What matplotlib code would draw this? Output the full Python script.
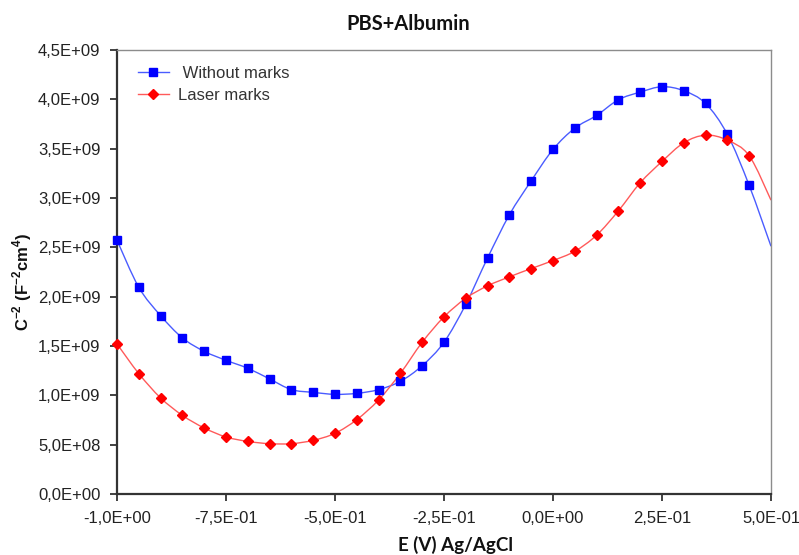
import numpy as np
import matplotlib
matplotlib.use("Agg")
import matplotlib.pyplot as plt
from matplotlib.path import Path
from matplotlib.patches import PathPatch
from matplotlib.lines import Line2D

# ---- data ----
potential = [-1.00, -0.95, -0.90, -0.85, -0.80, -0.75, -0.70, -0.65, -0.60, -0.55,
             -0.50, -0.45, -0.40, -0.35, -0.30, -0.25, -0.20, -0.15, -0.10, -0.05,
             0.00, 0.05, 0.10, 0.15, 0.20, 0.25, 0.30, 0.35, 0.40, 0.45, 0.50]
without_marks = [2.572e9, 2.095e9, 1.808e9, 1.582e9, 1.446e9, 1.355e9, 1.274e9, 1.166e9, 1.058e9, 1.030e9,
                 1.010e9, 1.020e9, 1.058e9, 1.142e9, 1.301e9, 1.538e9, 1.923e9, 2.393e9, 2.830e9, 3.174e9,
                 3.492e9, 3.708e9, 3.837e9, 3.996e9, 4.073e9, 4.128e9, 4.087e9, 3.958e9, 3.644e9, 3.127e9,
                 2.511e9]
laser_marks = [1.521e9, 1.220e9, 0.974e9, 0.797e9, 0.669e9, 0.578e9, 0.533e9, 0.510e9, 0.510e9, 0.544e9,
               0.615e9, 0.754e9, 0.953e9, 1.223e9, 1.538e9, 1.795e9, 1.984e9, 2.110e9, 2.201e9, 2.285e9,
               2.366e9, 2.460e9, 2.623e9, 2.870e9, 3.154e9, 3.370e9, 3.560e9, 3.637e9, 3.586e9, 3.428e9,
               2.978e9]
series_names = [" Without marks", "Laser marks"]
x_ticks = [-1.0, -0.75, -0.5, -0.25, 0.0, 0.25, 0.5]
x_tick_labels = ["-1,0E+00", "-7,5E-01", "-5,0E-01", "-2,5E-01", "0,0E+00", "2,5E-01", "5,0E-01"]
y_ticks = [0.0, 0.5e9, 1.0e9, 1.5e9, 2.0e9, 2.5e9, 3.0e9, 3.5e9, 4.0e9, 4.5e9]
y_tick_labels = ["0,0E+00", "5,0E+08", "1,0E+09", "1,5E+09", "2,0E+09", "2,5E+09",
                 "3,0E+09", "3,5E+09", "4,0E+09", "4,5E+09"]
title = "PBS+Albumin"
x_label = "E (V) Ag/AgCl"

plt.rcParams['mathtext.fontset'] = 'custom'
plt.rcParams['mathtext.rm'] = 'Liberation Sans'
plt.rcParams['mathtext.bf'] = 'Liberation Sans:bold'


def smooth_path(x, y):
    pts = np.column_stack([x, y])
    n = len(pts)
    verts = [pts[0]]
    codes = [Path.MOVETO]
    for i in range(n - 1):
        p0 = pts[i - 1] if i > 0 else pts[i]
        p1 = pts[i]
        p2 = pts[i + 1]
        p3 = pts[i + 2] if i + 2 < n else pts[i + 1]
        c1 = p1 + (p2 - p0) / 6.0
        c2 = p2 - (p3 - p1) / 6.0
        verts += [c1, c2, p2]
        codes += [Path.CURVE4] * 3
    return Path(verts, codes)


fig = plt.figure(figsize=(7.99, 5.55), dpi=100)
ax = fig.add_axes([117 / 799, 1 - 494 / 555, 654 / 799, 444 / 555])

blue_line = '#4a5cff'
red_line = '#ff5a5a'

ax.add_patch(PathPatch(smooth_path(potential, without_marks), fill=False,
                       edgecolor=blue_line, lw=1.0, zorder=2))
ax.add_patch(PathPatch(smooth_path(potential, laser_marks), fill=False,
                       edgecolor=red_line, lw=1.0, zorder=2))
ax.plot(potential, without_marks, ls='none', marker='s', ms=6.3, color='#0000ff',
        markevery=slice(0, len(potential) - 1), zorder=3, clip_on=False)
ax.plot(potential, laser_marks, ls='none', marker='D', ms=4.6, color='#ff0000',
        markevery=slice(0, len(potential) - 1), zorder=4, clip_on=False)

ax.set_xlim(-1.0, 0.5)
ax.set_ylim(0, 4.5e9)
ax.set_xticks(x_ticks)
ax.set_xticklabels(x_tick_labels)
ax.set_yticks(y_ticks)
ax.set_yticklabels(y_tick_labels)

for lab in ax.get_xticklabels() + ax.get_yticklabels():
    lab.set_fontfamily('Liberation Sans')
    lab.set_fontsize(12)
    lab.set_color('#222222')

ax.tick_params(axis='both', direction='out', length=5, width=1.3, color='#333333')
ax.tick_params(axis='x', pad=7)
ax.tick_params(axis='y', pad=7)

for s in ['left', 'bottom']:
    ax.spines[s].set_color('#333333')
    ax.spines[s].set_linewidth(1.6)
for s in ['top', 'right']:
    ax.spines[s].set_color('#8c8c8c')
    ax.spines[s].set_linewidth(1.0)

handles = [
    Line2D([], [], color=blue_line, lw=1.0, marker='s', ms=6.3, mfc='#0000ff', mec='#0000ff'),
    Line2D([], [], color=red_line, lw=1.0, marker='D', ms=4.6, mfc='#ff0000', mec='#ff0000'),
]
leg = ax.legend(handles, series_names, loc='upper left',
                bbox_to_anchor=((138 - 117) / 654, (494 - 66) / 444),
                frameon=False, borderpad=0, borderaxespad=0,
                handlelength=1.85, handletextpad=0.55, labelspacing=0.42,
                prop={'family': 'Liberation Sans', 'size': 12})
for t in leg.get_texts():
    t.set_color('#333333')

fig.text(408 / 799, 1 - 24 / 555, title, ha='center', va='center',
         fontfamily='Lato', fontweight='bold', fontsize=14.5, color='#111111')
fig.text(455 / 799, 1 - 545 / 555, x_label, ha='center', va='center',
         fontfamily='Lato', fontweight='bold', fontsize=13.5, color='#111111')
fig.text(22 / 799, 1 - 282 / 555,
         r'C$^{\mathbf{-2}}$ (F$^{\mathbf{-2}}$cm$^{\mathbf{4}}$)',
         rotation=90, ha='center', va='center',
         fontfamily='Liberation Sans', fontweight='bold', fontsize=12, color='#111111')

fig.savefig('out.png', dpi=100)
